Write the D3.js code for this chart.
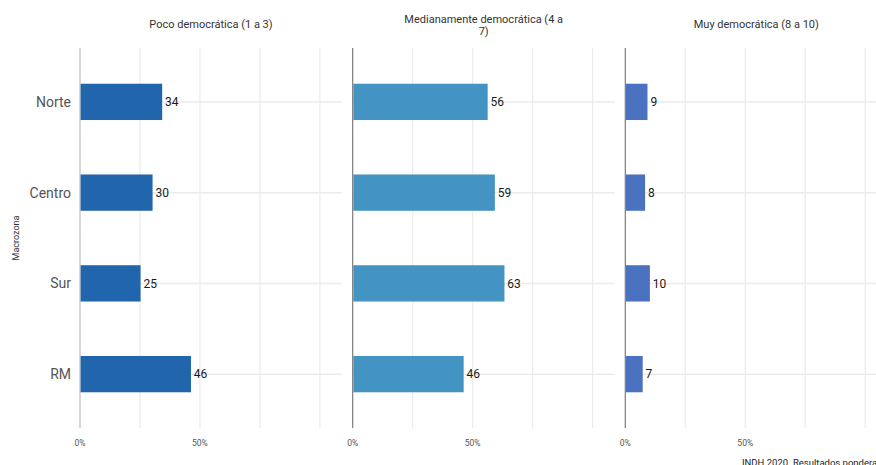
<!DOCTYPE html>
<html><head><meta charset="utf-8">
<script src="https://cdn.jsdelivr.net/npm/d3@7"></script>
<style>body{margin:0;background:#fff;}svg{display:block;font-family:Roboto,"Noto Sans",sans-serif;}</style>
</head><body><svg id="c" width="876" height="465"></svg>
<script>
const categories = ["Norte","Centro","Sur","RM"];
const panels = ["Poco democrática (1 a 3)","Medianamente democrática (4 a 7)","Muy democrática (8 a 10)"];
const pocoValues = [34,30,25,46];
const medianaValues = [56,59,63,46];
const muyValues = [9,8,10,7];
const tickLabels = ["0%","50%"];
const tickValues = [0,50];
const gridValues = [0,25,50,75,100];
const colors = ["#2166ac","#4393c3","#4b72c0"];
const caption = "INDH 2020. Resultados ponderados.";
const yTitle = "Macrozona";

const series = [pocoValues, medianaValues, muyValues];
const svg = d3.select("#c");
const panelLeft = [80, 352.7, 625.3];
const panelW = 262;
const plotTop = 48, plotBottom = 428;
const y = d3.scaleBand().domain(categories).range([56.5, 419.5]).paddingInner(0.6).paddingOuter(0.3);
const yc = d => y(d) + y.bandwidth()/2;

panels.forEach((title, p) => {
  const x0 = panelLeft[p];
  const x = d3.scaleLinear().domain([0, 109.2]).range([x0, x0 + panelW]);
  const g = svg.append("g");
  g.selectAll(".vg").data(gridValues.filter(v => v > 0)).join("line")
    .attr("x1", d => x(d)).attr("x2", d => x(d)).attr("y1", plotTop).attr("y2", plotBottom)
    .attr("stroke", "#ebebeb").attr("stroke-width", 1.2);
  g.selectAll(".hg").data(categories).join("line")
    .attr("x1", x0).attr("x2", x0 + panelW).attr("y1", d => yc(d)).attr("y2", d => yc(d))
    .attr("stroke", "#ebebeb").attr("stroke-width", 1.5);
  g.append("line").attr("x1", x(0)).attr("x2", x(0)).attr("y1", plotTop).attr("y2", plotBottom)
    .attr("stroke", p === 0 ? "#bdbdbd" : "#7a7a7a").attr("stroke-width", 1.2);
  g.selectAll(".bar").data(series[p]).join("rect")
    .attr("x", x(0) + 0.6).attr("y", (d, i) => y(categories[i]))
    .attr("width", d => x(d) - x(0)).attr("height", y.bandwidth())
    .attr("fill", colors[p]);
  g.selectAll(".lab").data(series[p]).join("text")
    .attr("x", d => x(d) + 3.5).attr("y", (d, i) => yc(categories[i]))
    .attr("dy", "0.35em").attr("font-size", 12).attr("fill", "#1a1a1a")
    .text(d => d);
  g.selectAll(".tk").data(tickValues).join("text")
    .attr("x", d => x(d)).attr("y", 446).attr("text-anchor", "middle")
    .attr("font-size", 8.5).attr("fill", "#555").text((d, i) => tickLabels[i]);
  const cx = x0 + panelW / 2;
  if (p === 1) {
    const t = g.append("text").attr("x", cx).attr("text-anchor", "middle").attr("font-size", 11).attr("fill", "#333");
    t.append("tspan").attr("x", cx).attr("y", 23).text("Medianamente democrática (4 a");
    t.append("tspan").attr("x", cx).attr("y", 35).text("7)");
  } else {
    g.append("text").attr("x", cx).attr("y", 28).attr("text-anchor", "middle")
      .attr("font-size", 11).attr("fill", "#333").text(title);
  }
});

svg.selectAll(".ylab").data(categories).join("text")
  .attr("x", 71).attr("y", d => yc(d)).attr("dy", "0.35em").attr("text-anchor", "end")
  .attr("font-size", 14).attr("fill", "#555").text(d => d);

svg.append("text").attr("transform", "translate(19,238) rotate(-90)").attr("text-anchor", "middle")
  .attr("font-size", 9).attr("fill", "#333").text(yTitle);

svg.append("text").attr("x", 742).attr("y", 466).attr("font-size", 9.5).attr("fill", "#222").text(caption);
</script></body></html>
